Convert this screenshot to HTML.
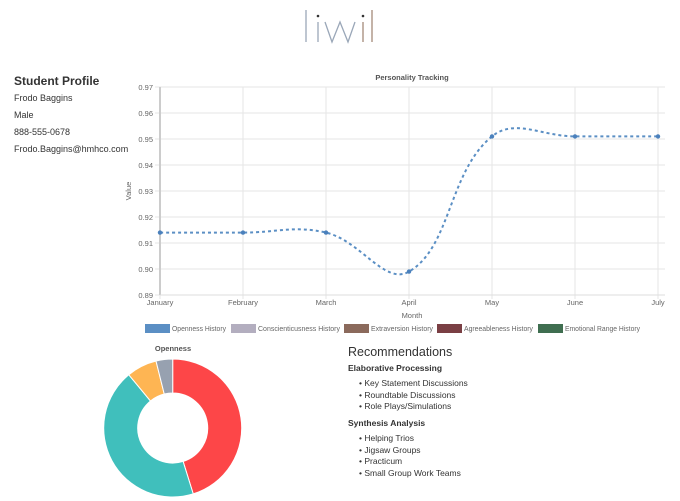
<!DOCTYPE html>
<html><head><meta charset="utf-8"><style>
body{margin:0;width:680px;height:501px;background:#fff;font-family:"Liberation Sans",sans-serif;overflow:hidden;position:relative}
.t{position:absolute;color:#333;white-space:nowrap}
</style></head><body>
<svg width="680" height="501" style="position:absolute;left:0;top:0" xmlns="http://www.w3.org/2000/svg">
<g stroke-width="1.3" fill="none">
<line x1="306" y1="10" x2="306" y2="42" stroke="#9aa7b8"/>
<line x1="318" y1="22" x2="318" y2="42" stroke="#9aa7b8"/>
<circle cx="318" cy="16" r="1.3" fill="#333" stroke="none"/>
<polyline points="325,22 332,42 340,22 348,42 355,22" stroke="#9aa7b8"/>
<line x1="363" y1="22" x2="363" y2="42" stroke="#a58a7a"/>
<circle cx="363" cy="16" r="1.3" fill="#333" stroke="none"/>
<line x1="372" y1="10" x2="372" y2="42" stroke="#a58a7a"/>
</g>
<g stroke="#e6e6e6" stroke-width="1" id="grid"></g>
<line x1="160" y1="87" x2="160" y2="295" stroke="#ccc" stroke-width="2"/>
<line x1="160" y1="295" x2="665" y2="295" stroke="#ddd"/>
<g font-size="7.5" fill="#666" id="lbl"></g>
<text x="412" y="80" font-size="7.5" font-weight="bold" fill="#555" text-anchor="middle">Personality Tracking</text>
<text x="412" y="318" font-size="7.5" fill="#666" text-anchor="middle">Month</text>
<text x="131" y="191" font-size="7.5" fill="#666" text-anchor="middle" transform="rotate(-90 131 191)">Value</text>
<path id="curve" fill="none" stroke="#5b8fc4" stroke-width="2" stroke-dasharray="3,3"/>
<g id="pts" fill="#4a80bc"></g>
<g font-size="7" fill="#666">
<rect x="145" y="324" width="25" height="9" fill="#5b8fc4"/><text x="172" y="331" textLength="54" lengthAdjust="spacingAndGlyphs">Openness History</text>
<rect x="231" y="324" width="25" height="9" fill="#b3aebf"/><text x="258" y="331" textLength="82" lengthAdjust="spacingAndGlyphs">Conscienticusness History</text>
<rect x="344" y="324" width="25" height="9" fill="#8b6a5c"/><text x="371" y="331" textLength="62" lengthAdjust="spacingAndGlyphs">Extraversion History</text>
<rect x="437" y="324" width="25" height="9" fill="#7a3f44"/><text x="464" y="331" textLength="69" lengthAdjust="spacingAndGlyphs">Agreeableness History</text>
<rect x="538" y="324" width="25" height="9" fill="#3f6e50"/><text x="565" y="331" textLength="75" lengthAdjust="spacingAndGlyphs">Emotional Range History</text>
</g>
<text x="173" y="351" font-size="7.5" font-weight="bold" fill="#555" text-anchor="middle">Openness</text>
<g id="donut" stroke="#fff" stroke-width="1"></g>
</svg>
<div class="t" style="left:14px;top:74px;font-size:12px;font-weight:bold">Student Profile</div>
<div class="t" style="left:14px;top:93px;font-size:9px">Frodo Baggins</div>
<div class="t" style="left:14px;top:110px;font-size:9px">Male</div>
<div class="t" style="left:14px;top:127px;font-size:9px">888-555-0678</div>
<div class="t" style="left:14px;top:144px;font-size:9px">Frodo.Baggins@hmhco.com</div>
<div class="t" style="left:348px;top:345px;font-size:12.5px">Recommendations</div>
<div class="t" style="left:348px;top:363px;font-size:8.5px;font-weight:bold">Elaborative Processing</div>
<div class="t" style="left:359px;top:378px;font-size:8.5px;line-height:11.5px">• Key Statement Discussions<br>• Roundtable Discussions<br>• Role Plays/Simulations</div>
<div class="t" style="left:348px;top:418px;font-size:8.5px;font-weight:bold">Synthesis Analysis</div>
<div class="t" style="left:359px;top:433px;font-size:8.5px;line-height:11.5px">• Helping Trios<br>• Jigsaw Groups<br>• Practicum<br>• Small Group Work Teams</div>
<script>
var NS="http://www.w3.org/2000/svg";
function el(p,t,a,txt){var e=document.createElementNS(NS,t);for(var k in a)e.setAttribute(k,a[k]);if(txt)e.textContent=txt;document.getElementById(p).appendChild(e);return e;}
var xs=[160,243,326,409,492,575,658],m=["January","February","March","April","May","June","July"];
for(var i=0;i<=8;i++){var y=87+i*26;el("grid","line",{x1:155,x2:665,y1:y,y2:y});el("lbl","text",{x:153,y:y+3,"text-anchor":"end"},(0.97-i*0.01).toFixed(2));}
for(i=0;i<7;i++){el("grid","line",{x1:xs[i],x2:xs[i],y1:87,y2:299});el("lbl","text",{x:xs[i],y:305,"text-anchor":"middle"},m[i]);}
var vals=[.914,.914,.914,.899,.951,.951,.951],P=vals.map(function(v,i){return [xs[i],87+(0.97-v)*2600];});
var t=0.4,cps=[];
for(i=0;i<7;i++){var a=P[Math.max(0,i-1)],b=P[i],c=P[Math.min(6,i+1)];
var d1=Math.hypot(b[0]-a[0],b[1]-a[1]),d2=Math.hypot(c[0]-b[0],c[1]-b[1]),s=d1+d2||1;
var fa=t*d1/s,fb=t*d2/s;cps.push([[b[0]-fa*(c[0]-a[0]),b[1]-fa*(c[1]-a[1])],[b[0]+fb*(c[0]-a[0]),b[1]+fb*(c[1]-a[1])]]);}
var d="M"+P[0];for(i=1;i<7;i++)d+=" C"+cps[i-1][1]+" "+cps[i][0]+" "+P[i];
document.getElementById("curve").setAttribute("d",d);
P.forEach(function(p){el("pts","circle",{cx:p[0],cy:p[1],r:2.2});});
var cx=172.7,cy=428,R=69,r=35,segs=[[0,162.7,"#fd4648"],[162.7,320.5,"#40bfbc"],[320.5,346,"#feb553"],[346,360,"#97a1b0"]];
function pt(rad,ang){var q=(ang-90)*Math.PI/180;return [cx+rad*Math.cos(q),cy+rad*Math.sin(q)];}
segs.forEach(function(g){var l=(g[1]-g[0])>180?1:0,a=pt(R,g[0]),b=pt(R,g[1]),c=pt(r,g[1]),e=pt(r,g[0]);
el("donut","path",{fill:g[2],d:"M"+a+" A"+R+","+R+" 0 "+l+" 1 "+b+" L"+c+" A"+r+","+r+" 0 "+l+" 0 "+e+" Z"});});
</script>
</body></html>
